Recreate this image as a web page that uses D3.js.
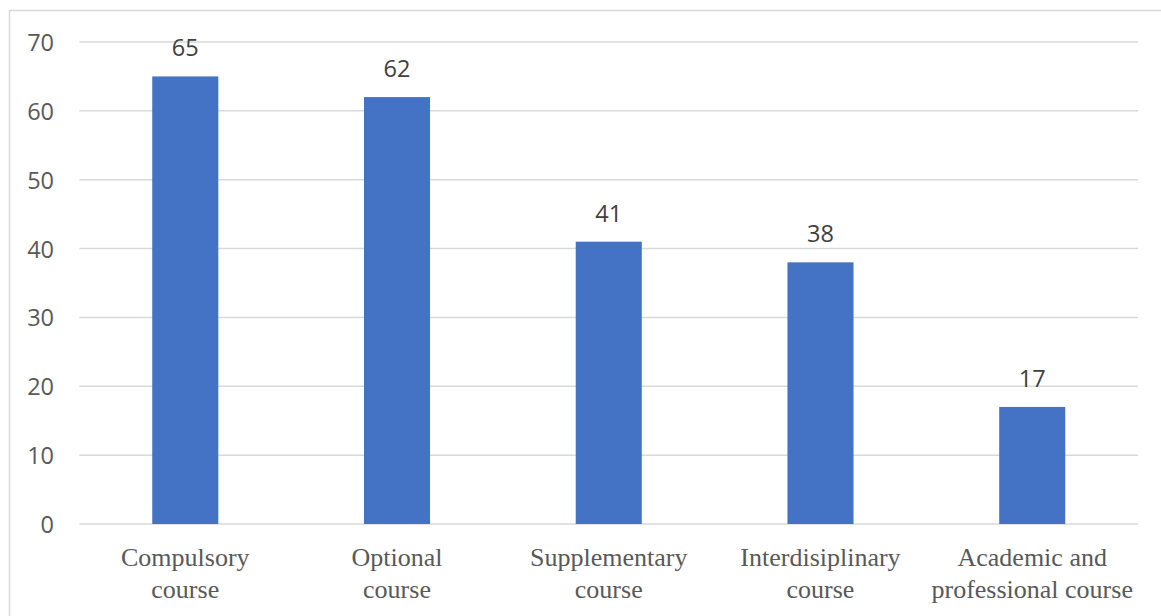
<!DOCTYPE html>
<html><head><meta charset="utf-8">
<script src="https://cdn.jsdelivr.net/npm/d3@7"></script>
<style>html,body{margin:0;padding:0;background:#fff;}</style>
</head><body>
<svg id="c" width="1161" height="616"></svg>
<script>
const categories = [["Compulsory","course"],["Optional","course"],["Supplementary","course"],["Interdisiplinary","course"],["Academic and","professional course"]];
const values = [65, 62, 41, 38, 17];
const yTicks = [0, 10, 20, 30, 40, 50, 60, 70];

(function () {
const svg = d3.select("#c");
const pLeft = 79.4, pRight = 1138.1, pTop = 42, pBottom = 524;

svg.append("rect").attr("x", 9.5).attr("y", 10.5).attr("width", 1200).attr("height", 700)
  .attr("fill", "none").attr("stroke", "#d9d9d9").attr("stroke-width", 1.5);

const x = d3.scaleBand().domain(d3.range(categories.length)).range([pLeft, pRight]).padding(0);
const y = d3.scaleLinear().domain([0, 70]).range([pBottom, pTop]);

// gridlines
svg.append("g").selectAll("line").data(yTicks).join("line")
  .attr("x1", pLeft).attr("x2", pRight)
  .attr("y1", d => y(d)).attr("y2", d => y(d))
  .attr("stroke", "#d9d9d9").attr("stroke-width", 1.5);

// y axis labels
const yAxis = d3.axisLeft(y).tickValues(yTicks).tickSize(0).tickPadding(0);
const ga = svg.append("g").attr("transform", `translate(${54},0)`).call(yAxis);
ga.select(".domain").remove();
ga.selectAll("text").attr("font-family", "'Open Sans', sans-serif").attr("font-size", 23.5)
  .attr("fill", "#595959").attr("dy", "0.36em");

// bars
const bw = x.bandwidth() * 0.312;
svg.append("g").selectAll("rect").data(values).join("rect")
  .attr("x", (d, i) => x(i) + x.bandwidth() / 2 - bw / 2)
  .attr("width", bw)
  .attr("y", d => y(d))
  .attr("height", d => y(0) - y(d))
  .attr("fill", "#4472c4");

// data labels
svg.append("g").selectAll("text").data(values).join("text")
  .attr("x", (d, i) => x(i) + x.bandwidth() / 2)
  .attr("y", d => y(d) - 20)
  .attr("text-anchor", "middle")
  .attr("font-family", "'Open Sans', sans-serif").attr("font-size", 23.5)
  .attr("fill", "#404040")
  .text(d => d);

// category labels
const cg = svg.append("g").selectAll("text").data(categories).join("text")
  .attr("text-anchor", "middle")
  .attr("font-family", "'Liberation Serif', 'Times New Roman', serif").attr("font-size", 26)
  .attr("fill", "#595959");
cg.each(function(d, i) {
  const t = d3.select(this);
  d.forEach((line, k) => {
    t.append("tspan").attr("x", x(i) + x.bandwidth() / 2).attr("y", 566 + k * 31.5).text(line);
  });
});
})();
</script>
</body></html>
